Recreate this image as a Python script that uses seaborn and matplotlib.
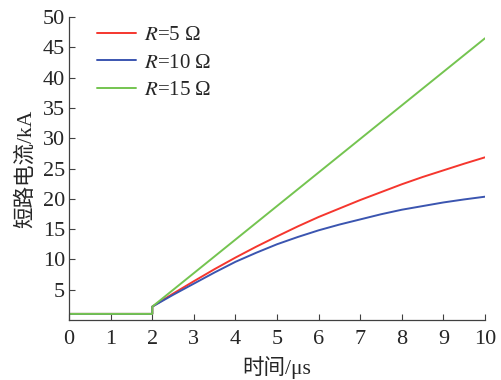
import matplotlib
matplotlib.use("Agg")
import matplotlib.pyplot as plt
import seaborn as sns
import pandas as pd

# time axis (μs) and short-circuit current (kA)
t_pre = [0.0, 2.0]
i_pre = [1.0, 1.0]

t_curve = [2.0, 2.5, 3.0, 3.5, 4.0, 4.5, 5.0, 5.5, 6.0, 6.5, 7.0, 7.5, 8.0, 8.5, 9.0, 9.5, 10.0]
i_r5 = [2.2, 4.35, 6.4, 8.4, 10.3, 12.1, 13.8, 15.45, 17.0, 18.4, 19.8, 21.1, 22.4, 23.6, 24.7, 25.8, 26.85]
i_r10 = [2.2, 4.15, 6.0, 7.85, 9.6, 11.1, 12.5, 13.7, 14.8, 15.75, 16.6, 17.45, 18.2, 18.8, 19.4, 19.9, 20.35]
t_r15 = [2.0, 10.0]
i_r15 = [2.2, 46.5]

labels = ["$R$=5 Ω", "$R$=10 Ω", "$R$=15 Ω"]
colors = ["#f5362e", "#3b55b0", "#74c450"]

sns.set_style("ticks")
plt.rcParams["font.family"] = ["Liberation Serif", "Noto Sans CJK SC"]
plt.rcParams["mathtext.fontset"] = "stix"
plt.rcParams["xtick.direction"] = "in"
plt.rcParams["ytick.direction"] = "in"

def series(ts, vs, name):
    # prepend the pre-fault flat segment so every line starts at t=0
    return pd.DataFrame({"t": t_pre + ts, "i": i_pre + vs, "case": name})

df = pd.concat([
    series(t_curve, i_r5, labels[0]),
    series(t_curve, i_r10, labels[1]),
    series(t_r15, i_r15, labels[2]),
], ignore_index=True)

fig = plt.figure(figsize=(5.01, 3.8), dpi=100)
ax = fig.add_axes([0.138, 0.158, 0.830, 0.797])

for name, c in zip(labels, colors):
    d = df[df["case"] == name]
    sns.lineplot(x="t", y="i", data=d, ax=ax, color=c, linewidth=1.4,
                 label=name, sort=False, estimator=None)

ax.set_xlim(0, 10)
ax.set_ylim(0, 50)
ax.set_xticks(range(0, 11))
ax.set_yticks(range(5, 51, 5))
ax.tick_params(labelsize=16, length=4, width=0.8, color="#404040")
ax.tick_params(axis="x", pad=7)
ax.tick_params(axis="y", pad=3)
for s in ["top", "right"]:
    ax.spines[s].set_visible(False)
for s in ["left", "bottom"]:
    ax.spines[s].set_color("#404040")
    ax.spines[s].set_linewidth(0.9)

ax.set_xlabel("时间/μs", fontsize=15.5, labelpad=5)
ax.set_ylabel("短路电流/kA", fontsize=15.5, labelpad=5)

ax.legend(loc="upper left", bbox_to_anchor=(0.067, 0.972), frameon=False,
          fontsize=15, handlelength=1.85, labelspacing=0.38, handletextpad=0.4,
          borderpad=0, borderaxespad=0)

fig.savefig("out.png", dpi=100)
